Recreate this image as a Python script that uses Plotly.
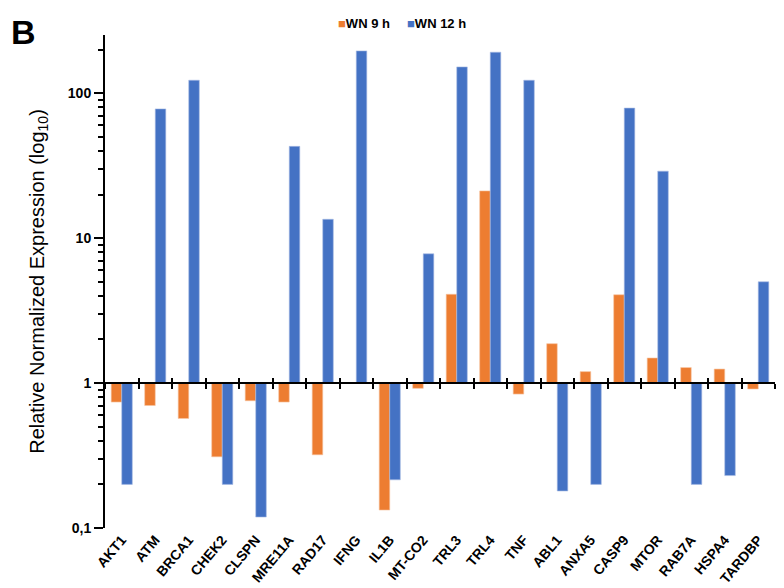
import plotly.graph_objects as go

genes = ["AKT1", "ATM", "BRCA1", "CHEK2", "CLSPN", "MRE11A", "RAD17", "IFNG", "IL1B", "MT-CO2",
         "TRL3", "TRL4", "TNF", "ABL1", "ANXA5", "CASP9", "MTOR", "RAB7A", "HSPA4", "TARDBP"]
wn9 = [0.74, 0.70, 0.57, 0.31, 0.755, 0.74, 0.32, 1.0, 0.133, 0.92,
       4.1, 21.2, 0.84, 1.87, 1.20, 4.07, 1.49, 1.28, 1.25, 0.91]
wn12 = [0.20, 78, 123, 0.20, 0.119, 43, 13.5, 196, 0.215, 7.8,
        152, 192, 123, 0.18, 0.20, 79, 29, 0.20, 0.23, 5.0]
ytick_vals = [0.1, 1, 10, 100]
ytick_text = ["0,1", "1", "10", "100"]
minor_vals = [m * d for d in (0.1, 1, 10) for m in range(2, 10)] + [200]

ORANGE = "#ED7D31"
BLUE = "#4472C4"
FONT = "Liberation Sans"

fig = go.Figure()
fig.add_trace(go.Bar(name="WN 9 h", x=genes, y=[v - 1 for v in wn9], base=1, showlegend=False,
                     marker=dict(color=ORANGE, line=dict(color="#F6C6A4", width=0.6))))
fig.add_trace(go.Bar(name="WN 12 h", x=genes, y=[v - 1 for v in wn12], base=1, showlegend=False,
                     marker=dict(color=BLUE, line=dict(color="#A9BCE4", width=0.6))))

lo, hi = -1, 2.402
pos1 = (0 - lo) / (hi - lo)
n = len(genes)
bounds = [i - 0.5 for i in range(n + 1)]

L, R, T, B = 105, 9, 35, 60
W, H = 784, 588
pw, ph = W - L - R, H - T - B


def px(x):
    return (x - L) / pw


def py(y):
    return (H - B - y) / ph


fig.update_layout(
    width=W, height=H,
    margin=dict(l=L, r=R, t=T, b=B, autoexpand=False),
    plot_bgcolor="white", paper_bgcolor="white",
    barmode="group", bargap=0.37, bargroupgap=0.0,
    font=dict(family=FONT, color="black"),
    showlegend=False,
    xaxis=dict(type="category", showline=False, ticks="", showgrid=False, tickangle=-50,
               automargin=False,
               tickfont=dict(family=FONT, size=14, weight="bold", color="black")),
    xaxis2=dict(overlaying="x", anchor="free", position=pos1, range=[-0.5, n - 0.5],
                showline=True, linecolor="black", linewidth=2, tickvals=bounds,
                ticks="outside", ticklen=5, tickwidth=2, tickcolor="black", automargin=False,
                showticklabels=False, showgrid=False, zeroline=False, fixedrange=True),
    xaxis3=dict(overlaying="x", anchor="free", position=pos1, range=[-0.5, n - 0.5],
                showline=False, tickvals=bounds, automargin=False,
                ticks="inside", ticklen=5, tickwidth=2, tickcolor="black",
                showticklabels=False, showgrid=False, zeroline=False, fixedrange=True),
    yaxis=dict(type="log", range=[lo, hi], showline=True, linecolor="black", linewidth=2,
               showgrid=False, zeroline=False, tickvals=ytick_vals, ticktext=ytick_text,
               ticks="outside", ticklen=9, tickwidth=2, tickcolor="black", automargin=False,
               tickfont=dict(family=FONT, size=14, weight="bold", color="black"),
               minor=dict(tickvals=minor_vals, ticks="outside", ticklen=5, tickwidth=1.5,
                          tickcolor="black", showgrid=False),
               title=dict(text="Relative Normalized Expression (log<sub>10</sub>)",
                          font=dict(family=FONT, size=20, color="black"), standoff=18)),
    annotations=[
        dict(text="<b>B</b>", xref="paper", yref="paper", x=px(23), y=py(32),
             xanchor="center", yanchor="middle", showarrow=False,
             font=dict(family=FONT, size=34, color="black")),
        dict(text=f"<span style='color:{ORANGE}'>■</span><b>WN 9 h</b>", xref="paper", yref="paper",
             x=px(336), y=py(23), xanchor="left", yanchor="middle", showarrow=False,
             font=dict(family=FONT, size=13, color="black")),
        dict(text=f"<span style='color:{BLUE}'>■</span><b>WN 12 h</b>", xref="paper", yref="paper",
             x=px(405), y=py(23), xanchor="left", yanchor="middle", showarrow=False,
             font=dict(family=FONT, size=13, color="black")),
    ],
)

# invisible helper traces so the two overlay axes (x axis line at 1) are drawn
fig.add_trace(go.Scatter(x=[0], y=[1], xaxis="x2", mode="markers", marker=dict(opacity=0),
                         showlegend=False, hoverinfo="skip"))
fig.add_trace(go.Scatter(x=[0], y=[1], xaxis="x3", mode="markers", marker=dict(opacity=0),
                         showlegend=False, hoverinfo="skip"))

fig.write_html("out.html", config={"displayModeBar": False},
               post_script="document.body.style.margin='0px';document.body.style.overflow='hidden';")
